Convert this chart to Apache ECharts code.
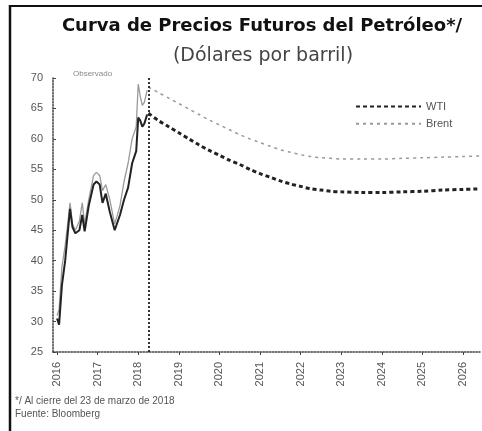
<!DOCTYPE html>
<html>
<head>
<meta charset="utf-8">
<script src="https://cdn.jsdelivr.net/npm/echarts@6/dist/echarts.min.js"></script>
<style>html,body{margin:0;padding:0;background:#fff}#c{width:482px;height:431px}</style>
</head>
<body>
<div id="c"></div>
<script>
const yearTicks = [2016, 2017, 2018, 2019, 2020, 2021, 2022, 2023, 2024, 2025, 2026];
const yTicks = [25, 30, 35, 40, 45, 50, 55, 60, 65, 70];

const obsYears = [2016.00, 2016.05, 2016.12, 2016.20, 2016.27, 2016.32, 2016.38, 2016.45, 2016.55, 2016.62, 2016.68, 2016.78, 2016.90, 2016.97, 2017.05, 2017.12, 2017.20, 2017.30, 2017.42, 2017.55, 2017.65, 2017.75, 2017.85, 2017.95, 2018.00, 2018.05, 2018.10, 2018.15, 2018.22];
const wtiObs = [30.5, 29.5, 36, 40, 45, 48.5, 45.5, 44.5, 45, 47.5, 44.8, 49, 52.5, 53, 52.5, 49.5, 51, 48, 45, 47.5, 50, 52, 56, 58, 63.5, 63, 62, 62.5, 64];
const brentObs = [31, 32, 39, 42.5, 46.5, 49.5, 46, 45, 46.5, 49.5, 46, 50, 54, 54.5, 54, 51.5, 52.5, 50, 46, 49, 53, 56, 60, 62, 69, 67, 65.5, 66, 68];

const futYears = [2018.25, 2018.5, 2018.75, 2019.0, 2019.25, 2019.5, 2019.75, 2020.0, 2020.25, 2020.5, 2020.75, 2021.0, 2021.25, 2021.5, 2021.75, 2022.0, 2022.25, 2022.5, 2022.75, 2023.0, 2023.5, 2024.0, 2024.5, 2025.0, 2025.5, 2026.0, 2026.4];
const wtiFut = [64.2, 63.0, 62.0, 61.0, 60.0, 59.0, 58.1, 57.3, 56.5, 55.8, 55.0, 54.3, 53.7, 53.1, 52.6, 52.2, 51.8, 51.6, 51.4, 51.3, 51.2, 51.2, 51.3, 51.4, 51.6, 51.7, 51.8];
const brentFut = [68.5, 67.6, 66.7, 65.8, 64.9, 64.0, 63.1, 62.3, 61.5, 60.7, 60.0, 59.4, 58.8, 58.2, 57.8, 57.4, 57.1, 56.9, 56.8, 56.7, 56.7, 56.7, 56.8, 56.9, 57.0, 57.1, 57.2];

const cutoff = 2018.25;
const zip = (xs, ys) => xs.map((x, i) => [x, ys[i]]);

const chart = echarts.init(document.getElementById('c'), null, {renderer: 'canvas'});
chart.setOption({
  animation: false,
  backgroundColor: '#fff',
  title: [{
    text: 'Curva de Precios Futuros del Petróleo*/',
    left: 257, textAlign: 'center', top: 12,
    textStyle: {fontFamily: 'DejaVu Sans', fontSize: 18, fontWeight: 'bold', color: '#111'}
  }, {
    text: '(Dólares por barril)',
    left: 258, textAlign: 'center', top: 42,
    textStyle: {fontFamily: 'DejaVu Sans', fontSize: 19, fontWeight: 'normal', color: '#444'}
  }],
  legend: {
    data: ['WTI', 'Brent'],
    orient: 'vertical',
    left: 350, top: 96,
    itemWidth: 65, itemHeight: 14, itemGap: 6,
    itemStyle: {opacity: 0},
    textStyle: {fontFamily: 'Liberation Sans', fontSize: 11, color: '#555'}
  },
  grid: {left: 53, right: 2, top: 78, bottom: 79, containLabel: false},
  xAxis: {
    type: 'value', min: 2015.9, max: 2026.42,
    splitLine: {show: false},
    axisLine: {lineStyle: {color: '#444', width: 1.5, type: 'dotted'}},
    axisTick: {show: true, customValues: yearTicks, length: 3, lineStyle: {color: '#444'}},
    axisLabel: {customValues: yearTicks, rotate: 90, formatter: v => String(v), fontFamily: 'Liberation Sans', fontSize: 11, color: '#555', margin: 10}
  },
  yAxis: {
    type: 'value', min: 25, max: 70, interval: 5,
    splitLine: {show: false},
    axisLine: {show: true, lineStyle: {color: '#444', width: 1.5, type: 'dotted'}},
    axisTick: {show: true, length: 3, inside: true, lineStyle: {color: '#444'}},
    axisLabel: {fontFamily: 'Liberation Sans', fontSize: 11, color: '#555', margin: 10}
  },
  graphic: [
    {type: 'line', shape: {x1: 10, y1: 6, x2: 482, y2: 6}, style: {stroke: '#111', lineWidth: 2}},
    {type: 'line', shape: {x1: 10, y1: 5, x2: 10, y2: 431}, style: {stroke: '#111', lineWidth: 2.5}},
    {type: 'text', left: 73, top: 70, style: {text: 'Observado', fontFamily: 'Liberation Sans', fontSize: 8, fill: '#888'}},
    {type: 'text', left: 15, top: 396, style: {text: '*/ Al cierre del 23 de marzo de 2018', fontFamily: 'Liberation Sans', fontSize: 10, fill: '#555'}},
    {type: 'text', left: 15, top: 409, style: {text: 'Fuente: Bloomberg', fontFamily: 'Liberation Sans', fontSize: 10, fill: '#555'}}
  ],
  series: [
    {name: 'Brent obs', type: 'line', data: zip(obsYears, brentObs), showSymbol: false, symbol: 'none',
      lineStyle: {color: '#999', width: 1.3}, z: 2,
      markLine: {silent: true, symbol: 'none', label: {show: false},
        lineStyle: {color: '#222', width: 1.8, type: [2, 2]},
        data: [{xAxis: cutoff}]}},
    {name: 'WTI obs', type: 'line', data: zip(obsYears, wtiObs), showSymbol: false, symbol: 'none',
      lineStyle: {color: '#222', width: 2}, z: 3},
    {name: 'WTI', type: 'line', data: zip(futYears, wtiFut), showSymbol: false, symbol: 'none', smooth: 0.3,
      itemStyle: {color: '#222'},
      lineStyle: {color: '#222', width: 3, type: [4, 3]}, z: 3},
    {name: 'Brent', type: 'line', data: zip(futYears, brentFut), showSymbol: false, symbol: 'none', smooth: 0.3,
      itemStyle: {color: '#999'},
      lineStyle: {color: '#999', width: 1.5, type: [3, 4]}, z: 2}
  ]
});
</script>
</body>
</html>
